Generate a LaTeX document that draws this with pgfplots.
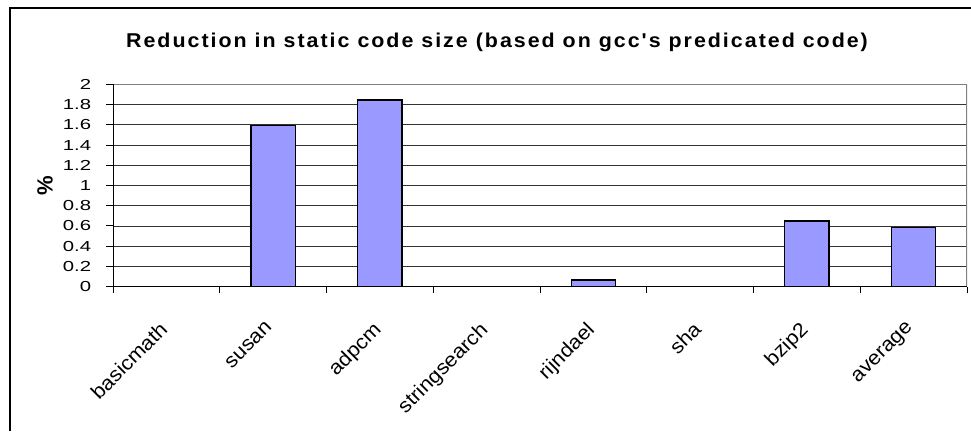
\documentclass[border=0pt]{standalone}
\usepackage{fontspec}
\setmainfont{Liberation Sans}
\newfontfamily\titlefont[LetterSpace=10,FakeStretch=1.07]{Liberation Sans}
\newfontfamily\widefont[FakeStretch=1.4]{Liberation Sans}
\newfontfamily\labelfont[FakeStretch=1.08]{Liberation Sans}
\usepackage{pgfplots}
\pgfplotsset{compat=1.18}
\definecolor{barfill}{HTML}{9999FF}

\begin{document}
\begin{tikzpicture}
\useasboundingbox (0,0) rectangle (971pt,431pt);
\fill[white] (0,0) rectangle (971pt,431pt);
% chart frame
\draw[line width=1.5pt] (10pt,0) -- (10pt,423pt) -- (971pt,423pt);
\node[anchor=base, font=\titlefont\fontsize{20}{24}\selectfont\bfseries]
  at (497pt,383pt) {Reduction in static code size (based on gcc's predicated code)};
\begin{axis}[
  at={(113pt,144.3pt)}, anchor=south west,
  scale only axis, width=854pt, height=202.4pt,
  xmin=0.5, xmax=8.5, ymin=0, ymax=2,
  ybar, bar width=44.4pt, bar shift=0pt,
  xtick={1,2,3,4,5,6,7,8},
  xticklabels={basicmath,susan,adpcm,stringsearch,rijndael,sha,bzip2,average},
  minor xtick={0.5,1.5,2.5,3.5,4.5,5.5,6.5,7.5,8.5},
  ytick={0,0.2,0.4,0.6,0.8,1,1.2,1.4,1.6,1.8,2},
  yticklabels={0,0.2,0.4,0.6,0.8,1,1.2,1.4,1.6,1.8,2},
  tick align=outside,
  major tick length=6.7pt, minor tick length=6.7pt,
  tick style={black, line width=1pt},
  major x tick style={draw=none},
  xtick pos=bottom, ytick pos=left,
  ymajorgrids,
  major grid style={black!80, line width=0.9pt},
  axis line style={draw=none},
  yticklabel style={anchor=east, inner sep=0pt, xshift=-15pt, font=\widefont\fontsize{14.5}{14.5}\selectfont},
  xticklabel style={anchor=north east, inner sep=0pt, xshift=-8pt, yshift=-27pt, rotate=45, font=\labelfont\fontsize{20}{20}\selectfont},
  ylabel={\%},
  ylabel style={at={(axis description cs:-0.0796,0.5)}, anchor=center, font=\fontsize{22}{22}\selectfont\bfseries},
]
\addplot[fill=barfill, draw=black, line width=1.2pt]
  coordinates {(1,0) (2,1.59) (3,1.845) (4,0) (5,0.066) (6,0) (7,0.649) (8,0.587)};
\draw[gray, line width=1.3pt] (rel axis cs:0,1) -- (rel axis cs:1,1) -- (rel axis cs:1,0);
\draw[black, line width=1.2pt] (rel axis cs:0,1) -- (rel axis cs:0,0) -- (rel axis cs:1,0);
\end{axis}
\end{tikzpicture}
\end{document}
